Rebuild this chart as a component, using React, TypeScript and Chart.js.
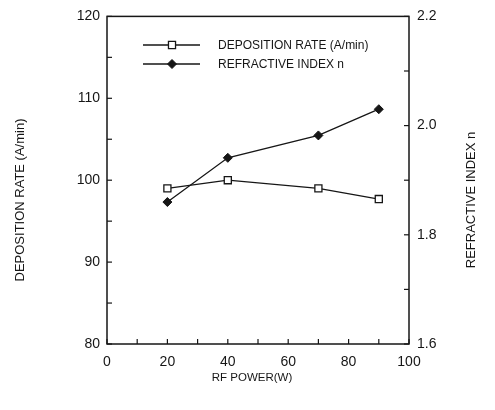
import { useEffect, useRef } from "react";
import { Chart, registerables } from "chart.js";

Chart.register(...registerables);

const rfPower = [20, 40, 70, 90];
const depositionRate = [99.0, 100.0, 99.0, 97.7];
const refractiveIndex = [1.86, 1.941, 1.982, 2.03];
const seriesNames = ["DEPOSITION RATE (A/min)", "REFRACTIVE INDEX n"];
const xTitle = "RF POWER(W)";
const leftTitle = "DEPOSITION RATE (A/min)";
const rightTitle = "REFRACTIVE INDEX n";
const xRange = [0, 100];
const leftRange = [80, 120];
const rightRange = [1.6, 2.2];

const INK = "#161616";
const FONT = "'Liberation Sans', Arial, sans-serif";

const framePlugin = {
  id: "frame",
  beforeDraw(chart: any) {
    const { ctx, width, height } = chart;
    ctx.save();
    ctx.fillStyle = "#ffffff";
    ctx.fillRect(0, 0, width, height);
    ctx.restore();
  },
  afterDraw(chart: any) {
    const { ctx, chartArea } = chart;
    const { left, right, top, bottom } = chartArea;
    ctx.save();
    ctx.strokeStyle = INK;
    ctx.lineWidth = 1.5;
    ctx.strokeRect(left, top, right - left, bottom - top);
    ctx.lineWidth = 1.2;
    const tl = 5;
    // inward tick marks
    const xs = chart.scales.x;
    xs.ticks.forEach((t: any) => {
      const p = xs.getPixelForValue(t.value);
      ctx.beginPath();
      ctx.moveTo(p, bottom);
      ctx.lineTo(p, bottom - tl);
      ctx.stroke();
    });
    const ys = chart.scales.y;
    ys.ticks.forEach((t: any) => {
      const p = ys.getPixelForValue(t.value);
      ctx.beginPath();
      ctx.moveTo(left, p);
      ctx.lineTo(left + tl, p);
      ctx.stroke();
    });
    const y1 = chart.scales.y1;
    y1.ticks.forEach((t: any) => {
      const p = y1.getPixelForValue(t.value);
      ctx.beginPath();
      ctx.moveTo(right, p);
      ctx.lineTo(right - tl, p);
      ctx.stroke();
    });

    // legend
    const lx0 = 143;
    const lx1 = 200;
    const mx = 172;
    const tx = 218;
    const rows = [45, 64];
    chart.data.datasets.forEach((ds: any, i: number) => {
      const yy = rows[i];
      ctx.strokeStyle = INK;
      ctx.lineWidth = 1.3;
      ctx.beginPath();
      ctx.moveTo(lx0, yy);
      ctx.lineTo(lx1, yy);
      ctx.stroke();
      ctx.beginPath();
      if (ds.pointStyle === "rect") {
        const s = Math.SQRT1_2 * ds.pointRadius;
        ctx.rect(mx - s, yy - s, 2 * s, 2 * s);
      } else {
        const r = ds.pointRadius;
        ctx.moveTo(mx - r, yy);
        ctx.lineTo(mx, yy - r);
        ctx.lineTo(mx + r, yy);
        ctx.lineTo(mx, yy + r);
        ctx.closePath();
      }
      ctx.fillStyle = ds.pointBackgroundColor;
      ctx.fill();
      ctx.lineWidth = ds.pointBorderWidth;
      ctx.stroke();
      ctx.fillStyle = INK;
      ctx.font = `12px ${FONT}`;
      ctx.textAlign = "left";
      ctx.textBaseline = "middle";
      ctx.fillText(ds.label, tx, yy + 0.5);
    });

    // axis titles
    ctx.fillStyle = INK;
    ctx.textAlign = "center";
    ctx.textBaseline = "middle";
    ctx.font = `11.5px ${FONT}`;
    ctx.fillText(xTitle, 252, 378);
    ctx.font = `13px ${FONT}`;
    ctx.save();
    ctx.translate(20, 200);
    ctx.rotate(-Math.PI / 2);
    ctx.fillText(leftTitle, 0, 0);
    ctx.restore();
    ctx.save();
    ctx.translate(471, 200);
    ctx.rotate(-Math.PI / 2);
    ctx.fillText(rightTitle, 0, 0);
    ctx.restore();
    ctx.restore();
  },
};

export default function App() {
  const ref = useRef<HTMLCanvasElement | null>(null);
  useEffect(() => {
    if (!ref.current) return;
    const chart = new Chart(ref.current, {
      type: "line",
      data: {
        datasets: [
          {
            label: seriesNames[0],
            data: rfPower.map((x, i) => ({ x, y: depositionRate[i] })),
            yAxisID: "y",
            borderColor: INK,
            borderWidth: 1.3,
            pointStyle: "rect",
            pointRadius: 5,
            pointBackgroundColor: "#ffffff",
            pointBorderColor: INK,
            pointBorderWidth: 1.3,
            tension: 0,
          },
          {
            label: seriesNames[1],
            data: rfPower.map((x, i) => ({ x, y: refractiveIndex[i] })),
            yAxisID: "y1",
            borderColor: INK,
            borderWidth: 1.3,
            pointStyle: "rectRot",
            pointRadius: 4.5,
            pointBackgroundColor: INK,
            pointBorderColor: INK,
            pointBorderWidth: 1,
            tension: 0,
          },
        ],
      } as any,
      options: {
        responsive: false,
        animation: false,
        layout: { padding: { top: 16, left: 0, right: 0, bottom: 0 } },
        plugins: { legend: { display: false }, tooltip: { enabled: false } },
        font: { family: FONT },
        scales: {
          x: {
            type: "linear",
            min: xRange[0],
            max: xRange[1],
            grid: { display: false, drawTicks: false },
            border: { display: false },
            ticks: {
              stepSize: 10,
              padding: 10,
              maxRotation: 0,
              autoSkip: false,
              color: INK,
              font: { size: 14, family: FONT },
              callback: (v: any) => (Math.round(v) % 20 === 0 ? String(Math.round(v)) : ""),
            },
            afterFit: (s: any) => {
              s.height = 66;
            },
          },
          y: {
            type: "linear",
            position: "left",
            min: leftRange[0],
            max: leftRange[1],
            grid: { display: false, drawTicks: false },
            border: { display: false },
            ticks: {
              stepSize: 5,
              padding: 7,
              autoSkip: false,
              color: INK,
              font: { size: 14, family: FONT },
              callback: (v: any) => (Math.round(v) % 10 === 0 ? String(Math.round(v)) : ""),
            },
            afterFit: (s: any) => {
              s.width = 107;
            },
          },
          y1: {
            type: "linear",
            position: "right",
            min: rightRange[0],
            max: rightRange[1],
            grid: { display: false, drawTicks: false },
            border: { display: false },
            ticks: {
              stepSize: 0.1,
              padding: 8,
              autoSkip: false,
              color: INK,
              font: { size: 14, family: FONT },
              callback: (v: any) => (Math.round(v * 10) % 2 === 0 ? Number(v).toFixed(1) : ""),
            },
            afterFit: (s: any) => {
              s.width = 86;
            },
          },
        },
      } as any,
      plugins: [framePlugin],
    });
    return () => chart.destroy();
  }, []);
  return (
    <div style={{ position: "absolute", left: 0, top: 0, width: 495, height: 410 }}>
      <canvas ref={ref} width={495} height={410} style={{ width: 495, height: 410, display: "block" }} />
    </div>
  );
}
